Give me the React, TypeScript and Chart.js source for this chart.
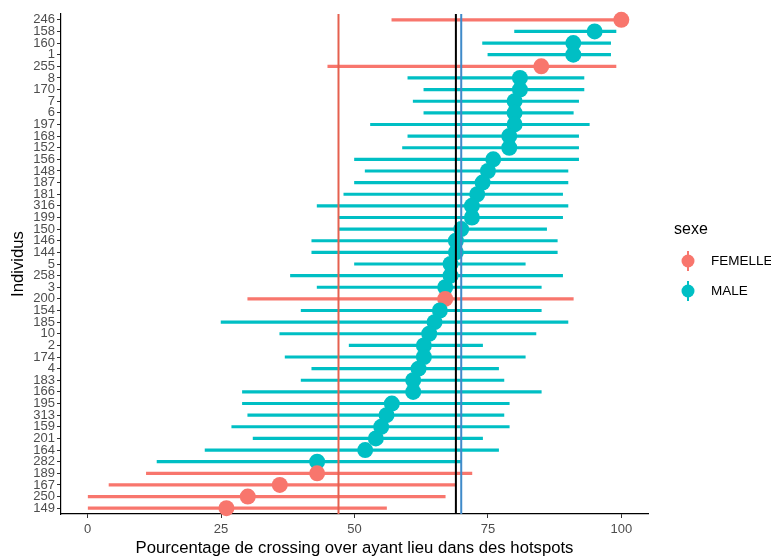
import React, { useEffect, useRef } from "react";
import { Chart, registerables } from "chart.js";

Chart.register(...registerables);

// ---------- data ----------
const categories = ["246","158","160","1","255","8","170","7","6","197","168","152","156","148","187","181","316","199","150","146","144","5","258","3","200","154","185","10","2","174","4","183","166","195","313","159","201","164","282","189","167","250","149"];
const sexes = ["FEMELLE","MALE","MALE","MALE","FEMELLE","MALE","MALE","MALE","MALE","MALE","MALE","MALE","MALE","MALE","MALE","MALE","MALE","MALE","MALE","MALE","MALE","MALE","MALE","MALE","FEMELLE","MALE","MALE","MALE","MALE","MALE","MALE","MALE","MALE","MALE","MALE","MALE","MALE","MALE","MALE","FEMELLE","FEMELLE","FEMELLE","FEMELLE"];
const estimates = [100,95,91,91,85,81,81,80,80,80,79,79,76,75,74,73,72,72,70,69,69,68,68,67,67,66,65,64,63,63,62,61,61,57,56,55,54,52,43,43,36,30,26];
const lowers = [57,80,74,75,45,60,63,61,63,53,60,59,50,52,50,48,43,47,47,42,42,50,38,43,30,40,25,36,49,37,42,40,29,29,30,27,31,22,13,11,4,0,0];
const uppers = [100,99,98,98,99,93,93,92,91,94,92,92,92,90,90,89,90,89,86,88,88,82,89,85,91,85,90,84,74,82,77,78,85,79,78,79,74,77,70,72,69,67,56];
const refLines = [47, 69, 70];
const xTicks = [0, 25, 50, 75, 100];
const legendLabels = ["FEMELLE", "MALE"];

// ---------- styles ----------
const FONT = "'Liberation Sans', Arial, sans-serif";
const sexColor: Record<string, string> = { FEMELLE: "#F8766D", MALE: "#00BFC4" };
const refStyles = [
  { color: "#E5604F", width: 2 },
  { color: "#000000", width: 2 },
  { color: "#3F8AC9", width: 2 },
];

const refLinePlugin = {
  id: "refLines",
  afterDatasetsDraw(chart: any) {
    const { ctx, chartArea, scales } = chart;
    ctx.save();
    refLines.forEach((v, i) => {
      const x = scales.x.getPixelForValue(v);
      ctx.strokeStyle = refStyles[i].color;
      ctx.lineWidth = refStyles[i].width;
      ctx.beginPath();
      ctx.moveTo(x, chartArea.top);
      ctx.lineTo(x, chartArea.bottom);
      ctx.stroke();
    });
    ctx.restore();
  },
};

const legendPlugin = {
  id: "ggLegend",
  afterDraw(chart: any) {
    const { ctx } = chart;
    ctx.save();
    ctx.fillStyle = "#000";
    ctx.font = `16px ${FONT}`;
    ctx.textBaseline = "middle";
    ctx.textAlign = "left";
    ctx.fillText("sexe", 674, 230);
    legendLabels.forEach((lab, i) => {
      const cy = 261 + i * 30;
      const cx = 688;
      ctx.strokeStyle = sexColor[lab];
      ctx.lineWidth = 2;
      ctx.beginPath();
      ctx.moveTo(cx, cy - 10);
      ctx.lineTo(cx, cy + 10);
      ctx.stroke();
      ctx.fillStyle = sexColor[lab];
      ctx.beginPath();
      ctx.arc(cx, cy, 6.5, 0, Math.PI * 2);
      ctx.fill();
      ctx.fillStyle = "#000";
      ctx.font = `13.5px ${FONT}`;
      ctx.fillText(lab, 711, cy);
    });
    ctx.restore();
  },
};

export default function App() {
  const ref = useRef<HTMLCanvasElement | null>(null);
  useEffect(() => {
    if (!ref.current) return;
    const colors = sexes.map((s) => sexColor[s]);
    const chart = new Chart(ref.current, {
      type: "bar",
      data: {
        labels: categories,
        datasets: [
          {
            type: "line",
            label: "estimate",
            indexAxis: "y",
            data: estimates,
            showLine: false,
            pointRadius: 8,
            pointHoverRadius: 8,
            pointBorderWidth: 0,
            pointBackgroundColor: colors,
            pointBorderColor: colors,
            order: 0,
          } as any,
          {
            type: "bar",
            label: "interval",
            data: lowers.map((l, i) => [l, uppers[i]]),
            backgroundColor: colors,
            barThickness: 2.5,
            borderWidth: 0,
            order: 1,
          } as any,
        ],
      },
      options: {
        indexAxis: "y",
        animation: false,
        responsive: true,
        maintainAspectRatio: false,
        layout: { padding: { top: 14, right: 123, left: 0, bottom: 0 } },
        plugins: { legend: { display: false }, tooltip: { enabled: false } },
        scales: {
          x: {
            type: "linear",
            min: -5,
            max: 105,
            afterBuildTicks: (scale: any) => {
              scale.ticks = xTicks.map((v) => ({ value: v }));
            },
            afterFit: (scale: any) => {
              scale.height = 45;
            },
            ticks: { font: { size: 13, family: FONT }, color: "#4D4D4D", padding: 4 },
            grid: { drawOnChartArea: false, drawTicks: true, tickLength: 4, color: "#333333", lineWidth: 1 },
            border: { display: true, color: "#000000", width: 1.2 },
            title: {
              display: true,
              text: "Pourcentage de crossing over ayant lieu dans des hotspots",
              font: { size: 16.7, family: FONT },
              color: "#000000",
              padding: 1,
            },
          },
          y: {
            type: "category",
            offset: true,
            afterFit: (scale: any) => {
              scale.width = 61;
            },
            ticks: { font: { size: 13, family: FONT, lineHeight: 1 }, color: "#4D4D4D", padding: 2, autoSkip: false },
            grid: { drawOnChartArea: false, drawTicks: true, tickLength: 4, color: "#333333", lineWidth: 1, offset: false },
            border: { display: true, color: "#000000", width: 1.2 },
            title: {
              display: true,
              text: "Individus",
              font: { size: 16.7, family: FONT },
              color: "#000000",
              padding: 8,
            },
          },
        },
      },
      plugins: [refLinePlugin, legendPlugin],
    });
    return () => chart.destroy();
  }, []);
  return (
    <div style={{ position: "fixed", left: 0, top: 0, width: 771, height: 559, background: "#fff" }}>
      <canvas ref={ref} />
    </div>
  );
}
